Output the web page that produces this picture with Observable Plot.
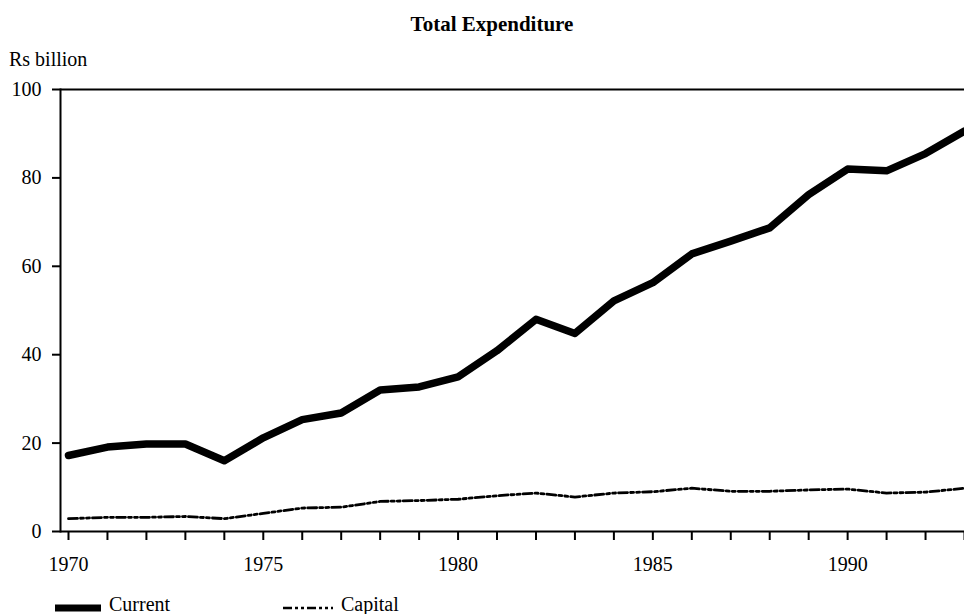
<!DOCTYPE html>
<html>
<head>
<meta charset="utf-8">
<script src="https://cdn.jsdelivr.net/npm/d3@7"></script>
<script src="https://cdn.jsdelivr.net/npm/@observablehq/plot@0.6"></script>
<style>
  body { margin: 0; background: #fff; font-family: "Liberation Serif", "Times New Roman", serif; color: #000; }
  #wrap { position: relative; width: 964px; height: 614px; overflow: hidden; }
  #title { position: absolute; top: 12px; left: 0; width: 984px; text-align: center; font-size: 21px; font-weight: bold; }
  #unit { position: absolute; top: 48px; left: 9px; font-size: 20px; }
  #chart { position: absolute; top: 0; left: 0; }
  .leg { position: absolute; top: 593px; font-size: 20px; display: flex; align-items: center; }
  .leg svg { margin-right: 8px; }
</style>
</head>
<body>
<div id="wrap">
  <div id="chart"></div>
  <div id="title">Total Expenditure</div>
  <div id="unit">Rs billion</div>
  <div class="leg" style="left:55px"><svg width="46" height="14"><line x1="0" x2="46" y1="10" y2="10" stroke="#000" stroke-width="7"/></svg>Current</div>
  <div class="leg" style="left:283px"><svg width="50" height="14"><line x1="0" x2="50" y1="10" y2="10" stroke="#000" stroke-width="2.5" stroke-dasharray="9,3,3,3,3,3"/></svg>Capital</div>
</div>
<script>
// valores (Rs billion)
const years = d3.range(1970, 1994)
const current = [17.2, 19.1, 19.8, 19.8, 16.0, 21.2, 25.3, 26.8, 32.0, 32.7, 35.0, 40.9,
  48.0, 44.8, 52.2, 56.3, 62.8, 65.7, 68.7, 76.2, 82.0, 81.6, 85.5, 90.6]
const capital = [2.9, 3.2, 3.2, 3.4, 2.9, 4.1, 5.3, 5.5, 6.8, 7.0, 7.3, 8.1,
  8.7, 7.8, 8.7, 9.0, 9.8, 9.1, 9.1, 9.4, 9.6, 8.7, 8.9, 9.8]
const yTicks = [0, 20, 40, 60, 80, 100]

const rows = years.map((year, i) => ({year, current: current[i], capital: capital[i]}))

let chart = Plot.plot({
  width: 964,
  height: 575,
  marginTop: 89,
  marginBottom: 44,
  marginLeft: 60,
  marginRight: 0,
  style: {fontFamily: "Liberation Serif", fontSize: "20px", color: "#000", background: "#fff"},
  x: {domain: [1970, 1993], insetLeft: 8},
  y: {domain: [0, 100]},
  marks: [
    Plot.axisY({ticks: yTicks, tickSize: 8, tickPadding: 11, strokeWidth: 2, label: null}),
    Plot.axisX({ticks: years, tickSize: 9, tickPadding: 16, strokeWidth: 2, label: null,
      tickFormat: d => d % 5 === 0 ? String(d) : ""}),
    Plot.frame({anchor: "left", strokeWidth: 2}),
    Plot.ruleY([0, 100], {strokeWidth: 2}),
    Plot.line(rows, {x: "year", y: "capital", stroke: "#000", strokeWidth: 2.8, strokeDasharray: "9,3,3,3,3,3"}),
    Plot.line(rows, {x: "year", y: "current", stroke: "#000", strokeWidth: 7.5}),
  ],
})

d3.select('#chart').append(() => chart)
</script>
</body>
</html>
